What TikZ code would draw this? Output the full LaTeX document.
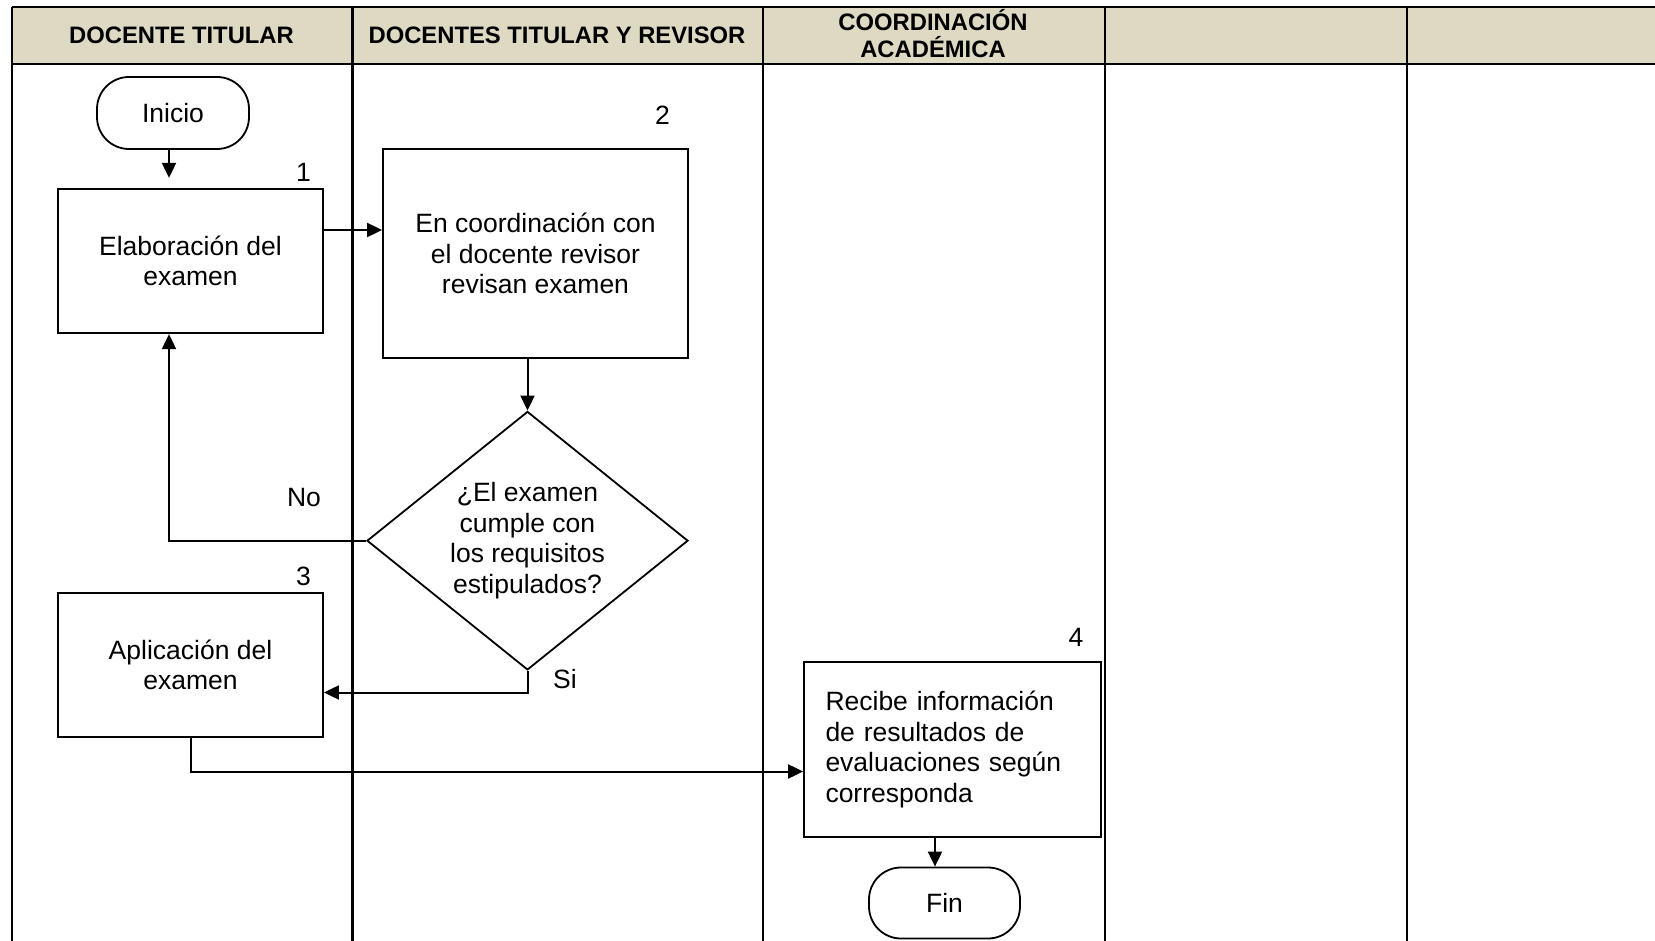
\documentclass[tikz,border=0pt]{standalone}
\usepackage{fontspec}
\setmainfont{Liberation Sans}
\usepackage{tikz}
\usepackage{xcolor}
\usetikzlibrary{positioning,shapes.geometric,arrows.meta}

\definecolor{head-fill}{HTML}{DDD9C3}

\begin{document}
\begin{tikzpicture}
[
x=0.5pt, y=-0.5pt,
lane-a/.style={line width=1.1pt},
head-a/.style={font=\fontsize{11.9}{13.7}\selectfont\bfseries, align=center},
step-a/.style={draw, line width=0.9pt, align=center, inner sep=0pt, font=\fontsize{13.25}{15.3}\selectfont},
term-a/.style={step-a, rounded corners=16pt, minimum width=76pt, minimum height=36pt},
dec-a/.style={step-a, diamond, aspect=1.24, minimum width=160.5pt, minimum height=129.25pt},
num-a/.style={inner sep=0pt, font=\fontsize{13.25}{15.3}\selectfont},
text-a/.style={inner sep=0pt, font=\fontsize{13.25}{15.3}\selectfont},
arr/.style={-{Triangle[length=7.5pt, width=7pt]}, line width=1pt}
]
\useasboundingbox (0,0) rectangle (1655,941);

% cabecera y carriles
\fill [head-fill] (11.6,7.4) rectangle (1655,64.4);
\draw [lane-a] (11.6,7.4) -- (1655,7.4);
\draw [lane-a] (11.6,64.4) -- (1655,64.4);
\foreach \x in {11.6, 352.5, 763, 1105, 1407}
  \draw [lane-a] (\x,7.4) -- (\x,941);

\node (head-1) [head-a] at (181.5,35)   {DOCENTE TITULAR};
\node (head-2) [head-a] at (557,35)     {DOCENTES TITULAR Y REVISOR};
\node (head-3) [head-a] at (933,33.75)  {COORDINACIÓN\\ACADÉMICA};

% pasos
\node (inicio)    [term-a] at (173,113) {Inicio};
\node (step-1)    [step-a, minimum width=132.5pt, minimum height=72.25pt] at (190.5,261)
                  {Elaboración del\\examen};
\node (step-1-nr) [num-a, above left = 2.75pt and 6.3pt of step-1.north east] {1};
\node (step-2)    [step-a, minimum width=152.5pt, minimum height=104.5pt] at (535.5,253.5)
                  {En coordinación con\\el docente revisor\\revisan examen};
\node (step-2-nr) [num-a, above left = 11.75pt and 9.3pt of step-2.north east] {2};
\node (dec)       [dec-a] at (527.5,540.7)
                  {¿El examen\\cumple con\\los requisitos\\estipulados?};
\node (step-3)    [step-a, minimum width=132.5pt, minimum height=72pt] at (190.5,665)
                  {Aplicación del\\examen};
\node (step-3-nr) [num-a, above left = 2.75pt and 6.3pt of step-3.north east] {3};
\node (step-4)    [step-a, minimum width=148.5pt, minimum height=87.5pt, align=left,
                   text width=127pt, inner xsep=10.75pt] at (952.5,749.5)
                  {Recibe información\\de resultados de\\evaluaciones según\\corresponda};
\node (step-4-nr) [num-a, above left = 6.95pt and 9.05pt of step-4.north east] {4};
\node (fin)       [term-a, minimum width=75.5pt, minimum height=35.5pt] at (944.5,903) {Fin};

\node (no-lb)     [text-a] at (304,498) {No};
\node (si-lb)     [text-a] at (565,679) {Si};

% conectores
\draw [arr, shorten >=5pt] ([xshift=-2pt]inicio.south) -- ([xshift=-2pt]inicio.south |- step-1.north);
\draw [arr] ([yshift=15.5pt]step-1.east) -- ([yshift=15.5pt]step-1.east -| step-2.west);
\draw [arr] (step-2.south -| dec.north) -- (dec.north);
\draw [arr] (dec.west) -| ([xshift=-10.75pt]step-1.south);
\draw [arr] (dec.south) |- ([yshift=-13.75pt]step-3.east);
\draw [arr] (step-3.south) |- ([yshift=-11pt]step-4.west);
\draw [arr] ([xshift=-8.75pt]step-4.south) -- ([xshift=-8.75pt]step-4.south |- fin.north);
\end{tikzpicture}
\end{document}
